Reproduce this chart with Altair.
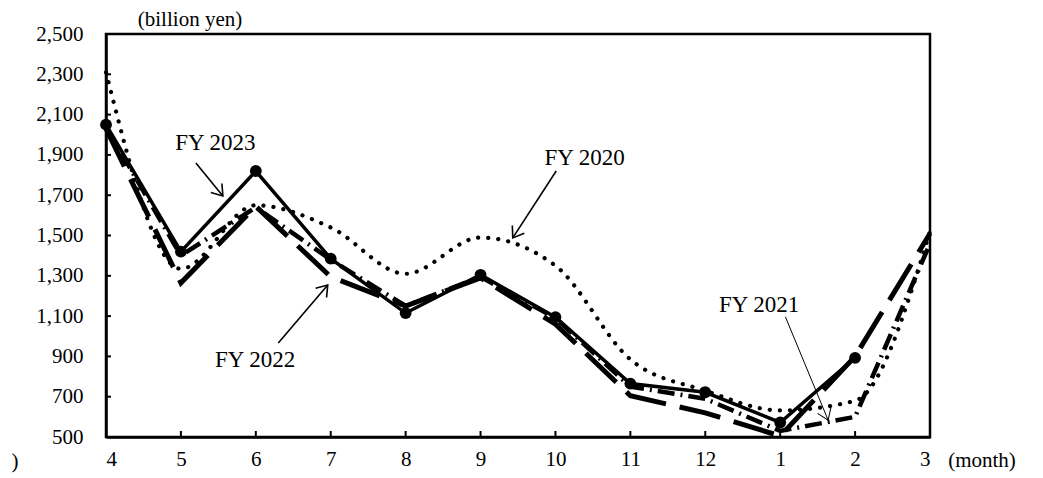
import math
import altair as alt
import pandas as pd

# ---- data ----
months = ["4", "5", "6", "7", "8", "9", "10", "11", "12", "1", "2", "3"]
fy2020 = [2310, 1335, 1650, 1540, 1310, 1490, 1350, 885, 730, 632, 680, 1520]
fy2021 = [2040, 1400, 1640, 1380, 1150, 1295, 1090, 750, 690, 530, 600, 1460]
fy2022 = [2030, 1265, 1645, 1295, 1150, 1290, 1060, 705, 620, 505, 900, 1510]
fy2023 = [2050, 1420, 1820, 1385, 1115, 1305, 1095, 765, 722, 572, 893, None]
y_ticks = list(range(500, 2501, 200))
y_unit = "(billion yen)"
x_unit = "(month)"

# annotation labels (month index, value) and arrows (from -> to)
ann_labels = ["FY 2023", "FY 2020", "FY 2022", "FY 2021"]
ann_text_i = [1.46, 6.39, 1.99, 8.72]
ann_text_v = [1960, 1885, 882, 1155]
arr_i1 = [1.20, 6.01, 2.30, 9.07]
arr_v1 = [1860, 1820, 966, 1096]
arr_i2 = [1.56, 5.43, 2.96, 9.64]
arr_v2 = [1696, 1488, 1254, 584]
arr_w = [1.6, 1.6, 1.6, 1.0]

W, H = 824, 403
FONT = "Liberation Serif"

idx = list(range(len(months)))


def frame(vals, name):
    return pd.DataFrame({"i": idx, "v": vals, "s": name}).dropna()


d20 = frame(fy2020, "FY 2020")
d21 = frame(fy2021, "FY 2021")
d22 = frame(fy2022, "FY 2022")
d23 = frame(fy2023, "FY 2023")

label_expr = "[" + ",".join(f"'{m}'" for m in months) + "][datum.value]"

x_scale = alt.Scale(domain=[0, 11], nice=False, zero=False)
y_scale = alt.Scale(domain=[500, 2500], nice=False, zero=False)

X = alt.X(
    "i:Q", scale=x_scale,
    axis=alt.Axis(values=idx, labelExpr=label_expr, ticks=False, grid=False,
                  labelPadding=11, title=None),
)
Y = alt.Y(
    "v:Q", scale=y_scale,
    axis=alt.Axis(values=y_ticks, format=",.0f", ticks=False, grid=False,
                  labelPadding=23, title=None),
)

l20 = alt.Chart(d20).mark_line(
    interpolate="monotone", color="black", strokeWidth=4.2,
    strokeDash=[0.1, 10], strokeCap="round"
).encode(x=X, y=Y)

l21 = alt.Chart(d21).mark_line(
    color="black", strokeWidth=4.5, strokeDash=[17, 6, 2, 6]
).encode(x=X, y=Y)

l22 = alt.Chart(d22).mark_line(
    color="black", strokeWidth=5, strokeDash=[42, 14]
).encode(x=X, y=Y)

l23 = alt.Chart(d23).mark_line(color="black", strokeWidth=3.5).encode(x=X, y=Y)
p23 = alt.Chart(d23).mark_point(filled=True, color="black", size=140,
                                 opacity=1).encode(x=X, y=Y)

# inside tick marks
xt = pd.DataFrame({"i": idx})
yt = pd.DataFrame({"v": y_ticks})
xticks = alt.Chart(xt).mark_rule(color="black", strokeWidth=2).encode(
    x=X, y=alt.value(H), y2=alt.value(H - 6))
yticks = alt.Chart(yt).mark_rule(color="black", strokeWidth=2).encode(
    y=Y, x=alt.value(0), x2=alt.value(5))

# annotations
px_i = W / 11
px_v = H / 2000
angles = []
for a, b, c, d in zip(arr_i1, arr_v1, arr_i2, arr_v2):
    dx = (c - a) * px_i
    dy = -(d - b) * px_v
    angles.append(math.degrees(math.atan2(dy, dx)) % 360)

ann = pd.DataFrame({"t": ann_labels, "i": ann_text_i, "v": ann_text_v})
arr = pd.DataFrame({"i": arr_i1, "v": arr_v1, "i2": arr_i2, "v2": arr_v2,
                    "w": arr_w, "ang": angles})
heads_df = pd.DataFrame({"i": arr_i2, "v": arr_v2, "w": arr_w, "ang": angles})

texts = alt.Chart(ann).mark_text(font=FONT, fontSize=23, color="black",
                                 align="center", baseline="middle").encode(
    x=X, y=Y, text="t:N")

shafts = alt.Chart(arr).mark_rule(color="black").encode(
    x=X, y=Y, x2="i2:Q", y2="v2:Q",
    strokeWidth=alt.StrokeWidth("w:Q", scale=None))

heads = alt.Chart(heads_df).mark_point(
    shape="M -1 -0.7 L 0 0 L -1 0.7", filled=False, color="black",
    size=420, opacity=1
).encode(x=X, y=Y, angle=alt.Angle("ang:Q", scale=None),
         strokeWidth=alt.StrokeWidth("w:Q", scale=None))

# unit labels and the stray parenthesis at the lower left
units = pd.DataFrame({"t": [y_unit, x_unit, ")"],
                      "px": [84, 876, -91], "py": [-14, 427, 428]})
unit_text = alt.Chart(units).mark_text(
    font=FONT, fontSize=21, color="black", align="center", baseline="middle"
).encode(x=alt.X("px:Q", scale=None), y=alt.Y("py:Q", scale=None),
         text="t:N")

chart = alt.layer(
    l20, l21, l22, l23, p23, xticks, yticks, shafts, heads, texts, unit_text
).properties(
    width=W, height=H,
    autosize=alt.AutoSizeParams(type="none"),
    padding={"left": 98, "top": 26, "right": 100, "bottom": 40},
).configure_axis(
    labelFont=FONT, labelFontSize=21, labelColor="black",
    domainColor="black", domainWidth=2.5, grid=False,
).configure_view(stroke="black", strokeWidth=2.5)

chart.save("out.html", embed_options={"renderer": "svg", "actions": False})
